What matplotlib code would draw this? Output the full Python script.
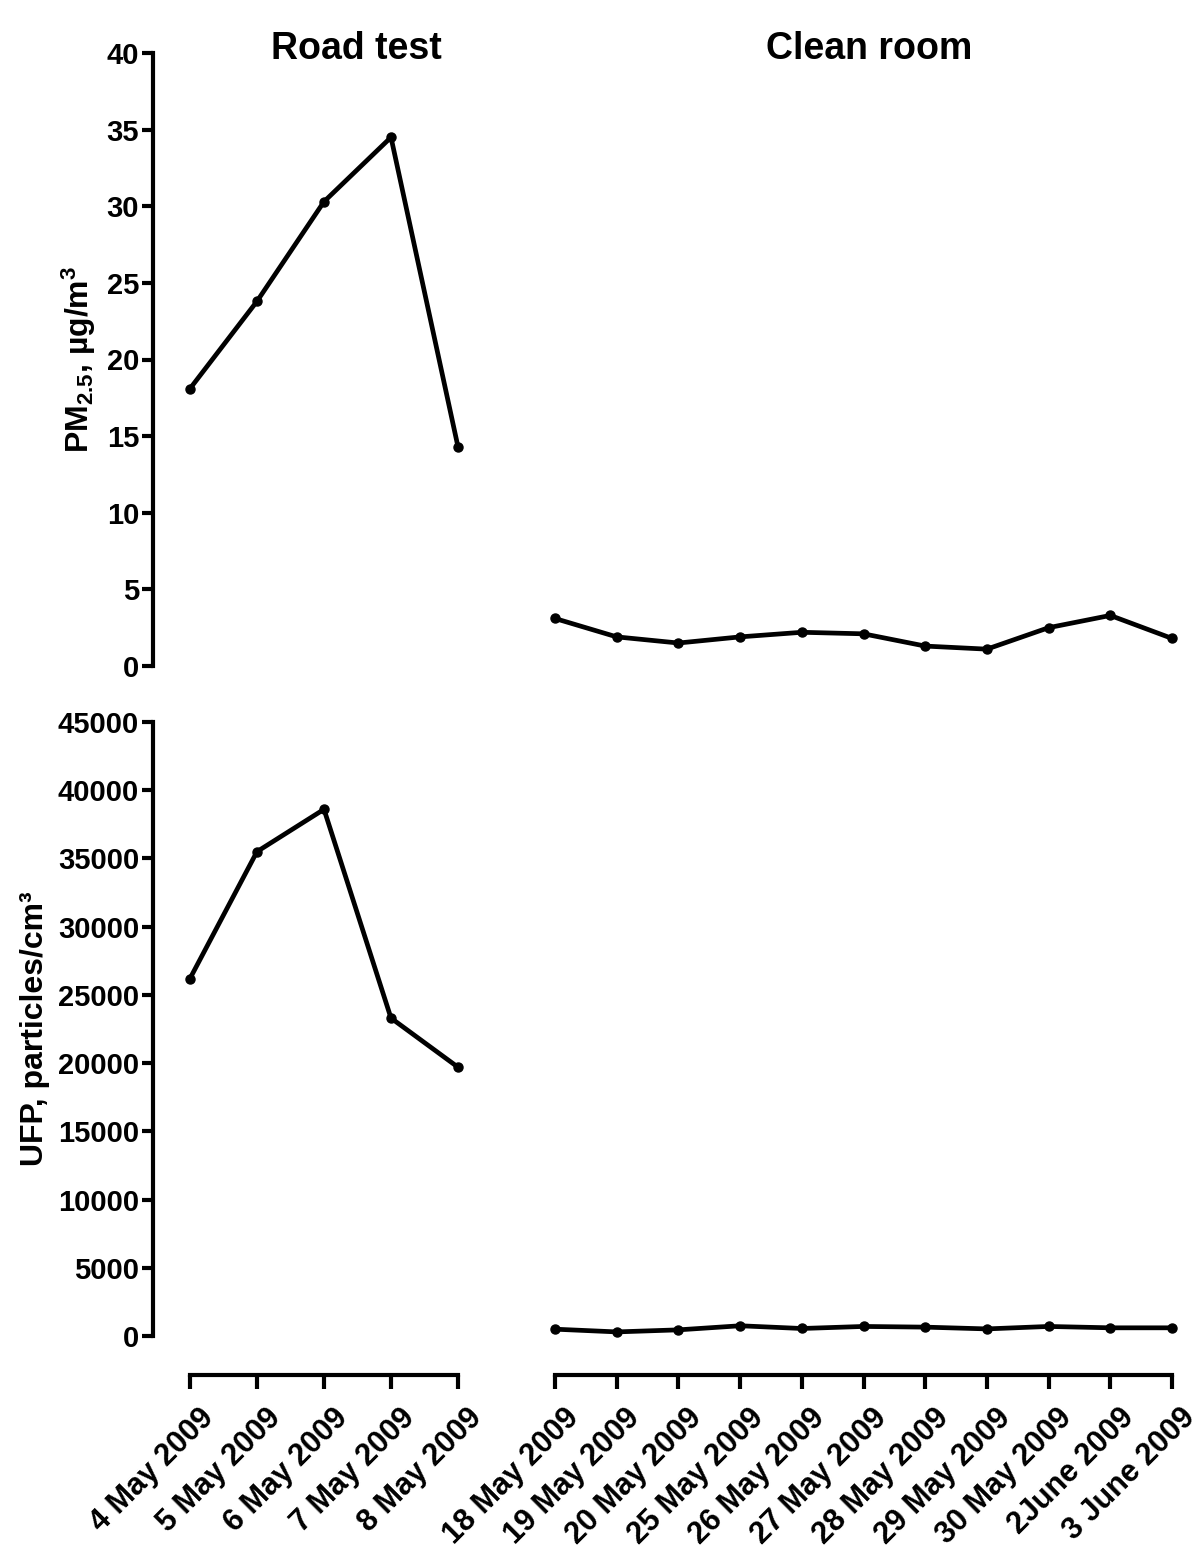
import matplotlib
matplotlib.use('Agg')
import matplotlib.pyplot as plt
import matplotlib.transforms as mtransforms

# Datos
road_dates = ['4 May 2009', '5 May 2009', '6 May 2009', '7 May 2009', '8 May 2009']
clean_dates = ['18 May 2009', '19 May 2009', '20 May 2009', '25 May 2009', '26 May 2009',
               '27 May 2009', '28 May 2009', '29 May 2009', '30 May 2009', '2June 2009',
               '3 June 2009']

pm_road = [18.1, 23.8, 30.3, 34.5, 14.3]
pm_clean = [3.1, 1.9, 1.5, 1.9, 2.2, 2.1, 1.3, 1.1, 2.5, 3.3, 1.8]

ufp_road = [26200, 35500, 38600, 23300, 19700]
ufp_clean = [500, 300, 450, 750, 550, 700, 650, 520, 700, 600, 600]

pm_ticks = [0, 5, 10, 15, 20, 25, 30, 35, 40]
ufp_ticks = [0, 5000, 10000, 15000, 20000, 25000, 30000, 35000, 40000, 45000]

plt.rcParams['font.family'] = ['Liberation Sans', 'DejaVu Sans']
plt.rcParams['font.weight'] = 'bold'
plt.rcParams['mathtext.fontset'] = 'custom'
plt.rcParams['mathtext.rm'] = 'Liberation Sans:bold'
plt.rcParams['mathtext.bf'] = 'Liberation Sans:bold'
plt.rcParams['mathtext.it'] = 'Liberation Sans:bold'

W, H = 1200, 1555
fig = plt.figure(figsize=(W / 100, H / 100), dpi=100)

def box(x0, x1, y0, y1):
    # caja en pixeles -> fracciones de figura
    return [x0 / W, 1 - y1 / H, (x1 - x0) / W, (y1 - y0) / H]

ax_tl = fig.add_axes(box(190, 458, 53, 666))
ax_tr = fig.add_axes(box(555, 1172, 53, 666))
ax_bl = fig.add_axes(box(190, 458, 722, 1336))
ax_br = fig.add_axes(box(555, 1172, 722, 1336))

lw = 3.0
line_kw = dict(color='black', lw=3.4, marker='o', ms=6.5, clip_on=False, solid_joinstyle='miter')

ax_tl.plot(road_dates, pm_road, **line_kw)
ax_tr.plot(clean_dates, pm_clean, **line_kw)
ax_bl.plot(road_dates, ufp_road, **line_kw)
ax_br.plot(clean_dates, ufp_clean, **line_kw)

for ax in (ax_tl, ax_tr):
    ax.set_ylim(0, 40)
for ax in (ax_bl, ax_br):
    ax.set_ylim(0, 45000)
for ax in (ax_tl, ax_bl):
    ax.set_xlim(0, len(road_dates) - 1)
for ax in (ax_tr, ax_br):
    ax.set_xlim(0, len(clean_dates) - 1)

for ax in (ax_tl, ax_tr, ax_bl, ax_br):
    ax.patch.set_visible(False)
    for s in ['top', 'right', 'left', 'bottom']:
        ax.spines[s].set_visible(False)
    ax.tick_params(axis='both', labelsize=21, width=lw, length=8, color='black')
    ax.tick_params(axis='x', which='both', bottom=False, labelbottom=False)
    ax.tick_params(axis='y', left=False, labelleft=False)

# ejes y a la izquierda
for ax, ticks in ((ax_tl, pm_ticks), (ax_bl, ufp_ticks)):
    ax.spines['left'].set_visible(True)
    ax.spines['left'].set_linewidth(lw)
    ax.spines['left'].set_position(('outward', 26.6))
    ax.spines['left'].set_capstyle('projecting')
    ax.set_yticks(ticks)
    ax.set_yticklabels([str(t) for t in ticks])
    ax.tick_params(axis='y', left=True, labelleft=True, pad=2)

ax_tl.set_ylabel(r'PM$_{2.5}$, µg/m$^{3}$', fontsize=23, fontweight='bold', labelpad=6)
ax_bl.set_ylabel('UFP, particles/cm³', fontsize=23, fontweight='bold', labelpad=6)

# eje x inferior partido
shift = mtransforms.ScaledTranslation(6 / 72, 0, fig.dpi_scale_trans)
for ax, labels in ((ax_bl, road_dates), (ax_br, clean_dates)):
    ax.spines['bottom'].set_visible(True)
    ax.spines['bottom'].set_linewidth(lw)
    ax.spines['bottom'].set_position(('outward', 28))
    ax.set_xticks(range(len(labels)))
    ax.set_xticklabels(labels, rotation=45, ha='right', va='top', rotation_mode='anchor')
    ax.tick_params(axis='x', bottom=True, labelbottom=True, length=10, labelsize=22, pad=10)
    for lab in ax.get_xticklabels():
        lab.set_transform(lab.get_transform() + shift)

# marcas de corte
ax_bl.set_xticks([len(road_dates) - 1], minor=True)
ax_br.set_xticks([0], minor=True)
for ax in (ax_bl, ax_br):
    ax.tick_params(axis='x', which='minor', direction='in', length=6, width=lw, bottom=True)

ax_tl.set_title('Road test', fontsize=27, fontweight='bold', x=0.62, y=1.0, pad=-4)
ax_tr.set_title('Clean room', fontsize=27, fontweight='bold', x=0.509, y=1.0, pad=-4)

fig.savefig('out.png', dpi=100)
